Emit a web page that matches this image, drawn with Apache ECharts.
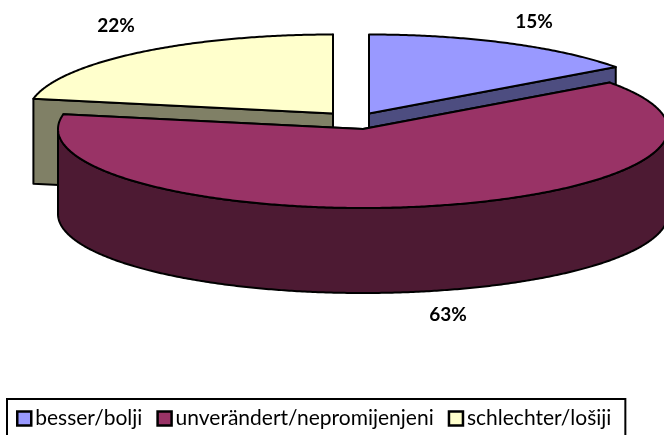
<!DOCTYPE html>
<html>
<head>
<meta charset="utf-8">
<style>html,body{margin:0;padding:0;background:#fff}#main{width:664px;height:435px}</style>
<script src="https://cdn.jsdelivr.net/npm/echarts@6/dist/echarts.min.js"></script>
</head>
<body>
<div id="main"></div>
<script>
const categories = ['besser/bolji', 'unverändert/nepromijenjeni', 'schlechter/lošiji'];
const shares = [15, 63, 22];

const topColors = ['#9999ff', '#993366', '#ffffcc'];
const sideColors = ['#4d4d80', '#4d1a33', '#808066'];
// slices are pulled apart, so each one has its own centre
const centers = [[369, 113.5], [363, 129], [333, 113.5]];
const labelPos = [[534, 22], [448, 315], [116, 26]];
const drawOrder = [2, 3, 1];
const rx = 305, ry = 79, depth = 85;

function rim(c, deg, dy) {
    const a = deg * Math.PI / 180;
    return [c[0] + rx * Math.sin(a), c[1] - ry * Math.cos(a) + (dy || 0)];
}

function arc(c, from, to, dy) {
    const pts = [];
    const steps = Math.max(2, Math.ceil(Math.abs(to - from) * 2));
    for (let i = 0; i <= steps; i++) pts.push(rim(c, from + (to - from) * i / steps, dy));
    return pts;
}

function face(points, fill) {
    return {
        type: 'polygon',
        shape: { points: points },
        style: { fill: fill, stroke: '#000', lineWidth: 2, lineJoin: 'round' }
    };
}

function renderSlice(idx) {
    return function (params, api) {
        const c = centers[idx];
        const start = shares.slice(0, idx).reduce((a, b) => a + b, 0) * 3.6;
        const end = start + api.value(0) * 3.6;
        const children = [];
        // cut faces that look towards the viewer
        [start, end].forEach(deg => {
            const a = rim(c, deg);
            if (Math.sin(deg * Math.PI / 180) === 0) return;
            children.push(face([
                c, a, [a[0], a[1] + depth], [c[0], c[1] + depth]
            ], sideColors[idx]));
        });
        // outer wall, only the front half shows
        const wallFrom = Math.max(start, 90), wallTo = Math.min(end, 270);
        if (wallTo > wallFrom) {
            children.push(face(
                arc(c, wallFrom, wallTo).concat(arc(c, wallTo, wallFrom, depth)),
                sideColors[idx]
            ));
        }
        children.push(face([c].concat(arc(c, start, end)), topColors[idx]));
        children.push({
            type: 'text',
            x: labelPos[idx][0],
            y: labelPos[idx][1],
            style: {
                text: api.value(0) + '%',
                fill: '#000',
                font: 'bold 19px Lato',
                align: 'center',
                verticalAlign: 'middle'
            }
        });
        return { type: 'group', children: children };
    };
}

const chart = echarts.init(document.getElementById('main'), null, { renderer: 'canvas' });
chart.setOption({
    animation: false,
    legend: {
        left: 7,
        top: 399,
        data: categories,
        icon: 'rect',
        orient: 'horizontal',
        itemWidth: 14,
        itemHeight: 14,
        itemGap: 14,
        padding: [9, 14, 24, 9],
        borderColor: '#000',
        borderWidth: 2,
        selectedMode: false,
        itemStyle: { borderColor: '#000', borderWidth: 2.5 },
        textStyle: { fontFamily: 'Lato', fontSize: 21, color: '#000', padding: [0, 0, 0, -1] }
    },
    series: categories.map((name, i) => ({
        type: 'custom',
        name: name,
        coordinateSystem: 'none',
        z: drawOrder[i],
        silent: true,
        itemStyle: { color: topColors[i] },
        data: [[shares[i]]],
        renderItem: renderSlice(i)
    }))
});
</script>
</body>
</html>
